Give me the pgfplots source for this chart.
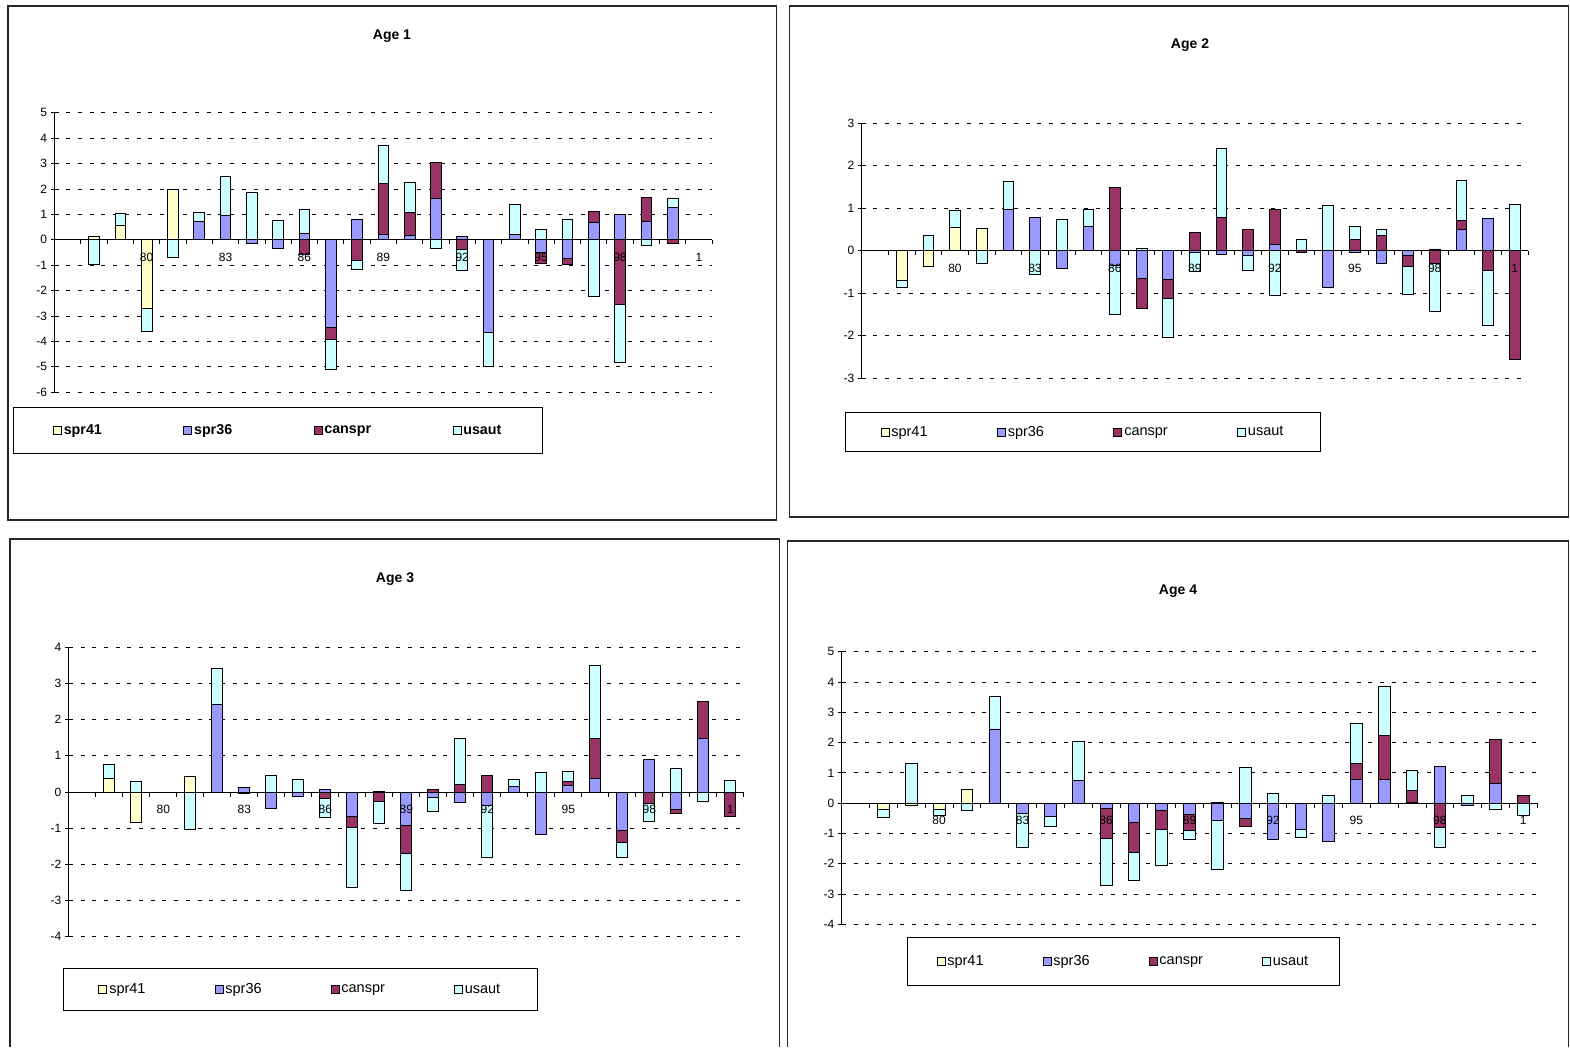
\documentclass[border=0pt]{standalone}
\usepackage{fontspec}
\setmainfont{Liberation Sans}
\usepackage{pgfplots}
\usepackage{pgfplotstable}
\pgfplotsset{compat=1.18}

\definecolor{cA}{HTML}{FFFFCC}
\definecolor{cB}{HTML}{9999FF}
\definecolor{cC}{HTML}{993366}
\definecolor{cD}{HTML}{CCFFFF}

% x: 0 = 1977 ... 24 = 2001
\pgfplotstableread{
x spr41 spr36 canspr usaut
0 0 0 0 0
1 0.13 0 0 -0.96
2 0.55 0 0 0.50
3 -2.70 0 0 -0.89
4 1.99 0 0 -0.68
5 0 0.73 0 0.34
6 0 0.96 0 1.55
7 0 -0.15 0 1.85
8 0 -0.33 0 0.76
9 0 0.26 -0.59 0.94
10 0 -3.43 -0.47 -1.20
11 0 0.81 -0.81 -0.37
12 0 0.22 2.01 1.47
13 0 0.17 0.90 1.17
14 0 1.61 1.43 -0.33
15 0 0.13 -0.37 -0.83
16 0 -3.66 0 -1.33
17 0 0.22 0 1.18
18 0 -0.48 -0.44 0.39
19 0 -0.72 -0.26 0.81
20 0 0.68 0.43 -2.23
21 0 0.98 -2.55 -2.29
22 0 0.72 0.93 -0.22
23 0 1.28 -0.13 0.33
24 0 0 0 0
}\TabA

\pgfplotstableread{
x spr41 spr36 canspr usaut
0 0 0 0 0
1 -0.69 0 0 -0.17
2 -0.38 0 0 0.35
3 0.55 0 0 0.40
4 0.53 0 0 -0.30
5 0 0.97 0 0.67
6 0 0.79 0 -0.56
7 0 -0.42 0 0.73
8 0 0.57 0 0.41
9 0 -0.34 1.48 -1.17
10 0 -0.66 -0.71 0.05
11 0 -0.68 -0.44 -0.93
12 0 -0.03 0.42 -0.45
13 0 -0.08 0.78 1.62
14 0 -0.12 0.51 -0.35
15 0 0.15 0.82 -1.06
16 0 0 -0.04 0.27
17 0 -0.86 0 1.06
18 0 -0.04 0.27 0.31
19 0 -0.30 0.36 0.13
20 0 -0.10 -0.28 -0.65
21 0 0.04 -0.31 -1.13
22 0 0.50 0.21 0.94
23 0 0.75 -0.46 -1.30
24 0 0 -2.55 1.08
}\TabB

\pgfplotstableread{
x spr41 spr36 canspr usaut
0 0 0 0 0
1 0.37 0 0 0.39
2 -0.83 0 0 0.28
3 -0.02 0 0 0
4 0.44 0 0 -1.02
5 0 2.43 0 0.99
6 0 0.12 0 -0.03
7 0 -0.44 0 0.46
8 0 -0.13 0 0.34
9 0 0.06 -0.18 -0.53
10 0 -0.68 -0.30 -1.66
11 0 0.03 -0.26 -0.62
12 0 -0.92 -0.78 -1.02
13 0 -0.15 0.07 -0.38
14 0 -0.29 0.20 1.29
15 0 -0.36 0.46 -1.45
16 0 0.16 0 0.20
17 0 -1.17 0 0.55
18 0 0.18 0.11 0.28
19 0 0.38 1.09 2.02
20 0 -1.07 -0.31 -0.44
21 0 0.89 -0.32 -0.48
22 0 -0.48 -0.12 0.64
23 0 1.49 1.01 -0.26
24 0 0 -0.68 0.32
}\TabC

\pgfplotstableread{
x spr41 spr36 canspr usaut
0 0 0 0 0
1 -0.19 0 0 -0.27
2 -0.08 0 0 1.30
3 -0.20 0 0 -0.22
4 0.45 0 0 -0.23
5 0 2.45 0 1.09
6 0 -0.34 0 -1.11
7 0 -0.45 0 -0.32
8 0 0.74 0 1.31
9 0 -0.16 -1.00 -1.55
10 0 -0.63 -1.01 -0.91
11 0 -0.25 -0.63 -1.17
12 0 -0.38 -0.51 -0.30
13 0 -0.57 0.03 -1.63
14 0 -0.51 -0.26 1.18
15 0 -1.18 0 0.31
16 0 -0.86 0 -0.26
17 0 -1.27 0 0.27
18 0 0.77 0.55 1.32
19 0 0.78 1.45 1.62
20 0 0.03 0.40 0.65
21 0 1.21 -0.80 -0.65
22 0 -0.09 0 0.26
23 0 0.66 1.44 -0.22
24 0 0 0.25 -0.41
}\TabD

\pgfplotsset{
  layers/mylayers/.define layer set={axis background,axis grid,main,axis ticks,axis lines,axis tick labels,axis descriptions,axis foreground}{/pgfplots/layers/standard},
  base/.style={
    set layers=mylayers,
    scale only axis,
    ybar stacked,
    xmin=-0.5, xmax=24.5,
    axis x line=middle, axis y line=left,
    axis line style={-, black, line width=1pt},
    xtick={3,6,...,24},
    xticklabels={80,83,86,89,92,95,98,1},
    minor xtick={-0.5,0.5,...,24.5},
    every major x tick/.append style={draw=none},
    xtick align=outside, ytick align=center,
    major tick length=8pt, minor tick length=4.5pt,
    tick style={black, line width=0.8pt},
    ytick distance=1,
    ymajorgrids,
    major grid style={black, line width=0.9pt, dash pattern=on 4pt off 7.7pt},
    tick label style={font=\fontsize{12}{14}\selectfont},
    /pgf/number format/assume math mode=true,
    xticklabel style={yshift=-1.8pt},
    yticklabel style={anchor=east},
    legend columns=4,
    legend cell align=left,
    legend image code/.code={\draw[##1] (0pt,-4pt) rectangle (8pt,4pt);},
    legend style={draw=black, line width=1pt, anchor=north west},
    title style={anchor=center, font=\bfseries\fontsize{14}{16}\selectfont},
  },
  p1/.style={at={(54.6pt,-392.3pt)}, anchor=south west, width=657.4pt, height=279.6pt,
    ymin=-6, ymax=5, bar width=10.7pt,
    title={Age 1}, title style={at={(0.5132,1.2511)}},
    legend style={at={(-0.0633,-0.0526)}, inner xsep=39.5pt, inner ysep=15pt,
      font=\bfseries\fontsize{14.3}{17}\selectfont,
      /tikz/every even column/.append style={column sep=79.3pt}}},
  p2/.style={at={(861.7pt,-378pt)}, anchor=south west, width=666.3pt, height=254.7pt,
    ymin=-3, ymax=3, bar width=10.7pt,
    title={Age 2}, title style={at={(0.4927,1.2819)}},
    legend style={at={(-0.0255,-0.1323)}, inner xsep=35.3pt, inner ysep=12pt,
      font=\fontsize{14.5}{17}\selectfont,
      /tikz/every even column/.append style={column sep=67.4pt}}},
  p3/.style={at={(68.8pt,-936.7pt)}, anchor=south west, width=675pt, height=289.4pt,
    ymin=-4, ymax=4, bar width=11pt,
    title={Age 3}, title style={at={(0.4833,1.2153)}},
    legend style={at={(-0.0086,-0.1082)}, inner xsep=35pt, inner ysep=13pt,
      font=\fontsize{14.5}{17}\selectfont,
      /tikz/every even column/.append style={column sep=67pt}}},
  p4/.style={at={(841.8pt,-924.3pt)}, anchor=south west, width=695.4pt, height=272.6pt,
    ymin=-4, ymax=5, bar width=11.7pt,
    title={Age 4}, title style={at={(0.4835,1.2007)}},
    legend style={at={(0.0938,-0.0466)}, inner xsep=29pt, inner ysep=16pt,
      font=\fontsize{14.5}{17}\selectfont,
      /tikz/every even column/.append style={column sep=57pt}}},
}

\newcommand\Panel[2]{%
  \begin{axis}[base,#2]
    \addplot[fill=cA, draw=black, line width=0.8pt] table[x=x, y expr={max(\thisrow{spr41},0)}] {#1};
    \addplot[fill=cB, draw=black, line width=0.8pt] table[x=x, y expr={max(\thisrow{spr36},0)}] {#1};
    \addplot[fill=cC, draw=black, line width=0.8pt] table[x=x, y expr={max(\thisrow{canspr},0)}] {#1};
    \addplot[fill=cD, draw=black, line width=0.8pt] table[x=x, y expr={max(\thisrow{usaut},0)}] {#1};
    \legend{spr41,spr36,canspr,usaut}
  \end{axis}
  \begin{axis}[base,#2,hide axis,ymajorgrids=false,title={}]
    \addplot[fill=cA, draw=black, line width=0.8pt] table[x=x, y expr={min(\thisrow{spr41},0)}] {#1};
    \addplot[fill=cB, draw=black, line width=0.8pt] table[x=x, y expr={min(\thisrow{spr36},0)}] {#1};
    \addplot[fill=cC, draw=black, line width=0.8pt] table[x=x, y expr={min(\thisrow{canspr},0)}] {#1};
    \addplot[fill=cD, draw=black, line width=0.8pt] table[x=x, y expr={min(\thisrow{usaut},0)}] {#1};
  \end{axis}%
}

\begin{document}
\begin{tikzpicture}
\path (0pt,0pt) rectangle (1570pt,-1047pt);
\draw[line width=1.3pt, black!85] (8pt,-6pt) rectangle (776.3pt,-520pt);
\draw[line width=1.3pt, black!85] (789.3pt,-6pt) rectangle (1568.5pt,-517pt);
\draw[line width=1.3pt, black!85] (10pt,-1047pt) -- (10pt,-539pt) -- (779.3pt,-539pt) -- (779.3pt,-1047pt);
\draw[line width=1.3pt, black!85] (787.7pt,-1047pt) -- (787.7pt,-541pt) -- (1568.5pt,-541pt) -- (1568.5pt,-1047pt);
\Panel{\TabA}{p1}
\Panel{\TabB}{p2}
\Panel{\TabC}{p3}
\Panel{\TabD}{p4}
\end{tikzpicture}
\end{document}
